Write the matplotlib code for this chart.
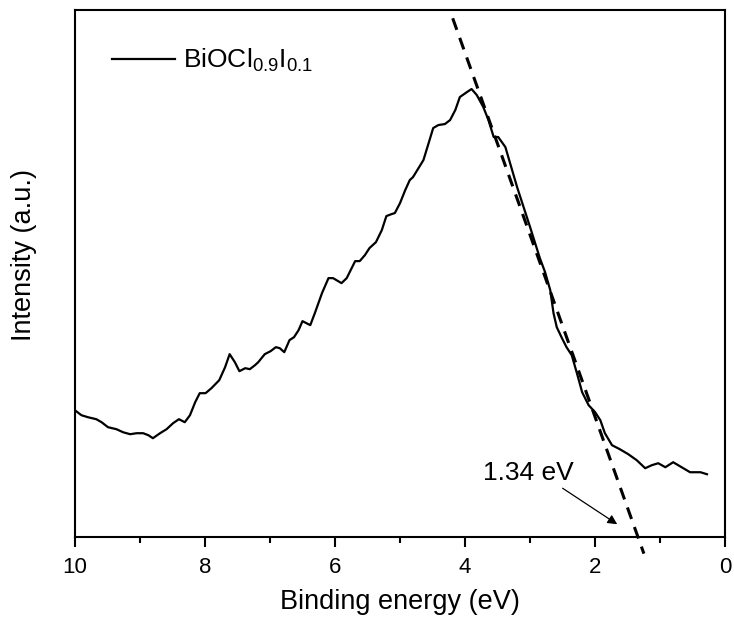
import matplotlib
matplotlib.use('Agg')
import matplotlib.pyplot as plt
from matplotlib.ticker import MultipleLocator

plt.rcParams['font.family'] = ['Liberation Sans', 'DejaVu Sans']
plt.rcParams['mathtext.default'] = 'regular'

# VB-XPS spectrum (arbitrary intensity units)
energy = [10.0, 9.90, 9.80, 9.67, 9.59, 9.49, 9.36, 9.26, 9.15, 9.05, 8.95, 8.87,
          8.80, 8.69, 8.59, 8.49, 8.40, 8.31, 8.23, 8.15, 8.08, 7.99, 7.90, 7.78,
          7.69, 7.62, 7.54, 7.47, 7.38, 7.31, 7.23, 7.18, 7.08, 6.99, 6.91, 6.85,
          6.78, 6.70, 6.63, 6.56, 6.50, 6.44, 6.38, 6.31, 6.20, 6.10, 6.03, 5.90,
          5.82, 5.69, 5.62, 5.54, 5.47, 5.37, 5.28, 5.21, 5.13, 5.08, 5.00, 4.92,
          4.85, 4.80, 4.64, 4.56, 4.49, 4.41, 4.31, 4.23, 4.15, 4.08, 3.97, 3.90,
          3.82, 3.72, 3.64, 3.56, 3.49, 3.38, 3.20, 3.00, 2.85, 2.77, 2.69, 2.64,
          2.59, 2.51, 2.44, 2.36, 2.28, 2.20, 2.10, 2.00, 1.92, 1.85, 1.74, 1.62,
          1.49, 1.36, 1.23, 1.13, 1.03, 0.92, 0.80, 0.67, 0.54, 0.38, 0.28]
intensity = [127, 122, 120, 118, 115, 110, 108, 105, 103, 104, 104, 102,
             99, 104, 108, 114, 118, 115, 122, 135, 144, 144, 149, 157,
             170, 183, 175, 166, 169, 168, 172, 175, 183, 186, 190, 189,
             185, 197, 200, 207, 216, 214, 212, 224, 244, 259, 259, 254,
             259, 276, 276, 282, 289, 295, 307, 321, 323, 324, 334, 347,
             357, 360, 377, 394, 409, 412, 413, 417, 427, 440, 445, 448,
             442, 430, 417, 400, 400, 390, 350, 310, 279, 265, 247, 224,
             210, 199, 190, 182, 164, 145, 132, 125, 117, 104, 92, 88,
             83, 77, 69, 72, 74, 70, 75, 70, 65, 65, 63]

# linear extrapolation of the leading edge
onset = 1.34
edge_slope = 182.0
fit_energy = [4.19, 1.25]
fit_intensity = [edge_slope * (e - onset) for e in fit_energy]

fig = plt.figure(figsize=(7.34, 6.24), dpi=100)
ax = fig.add_axes([0.102, 0.139, 0.886, 0.845])

ax.plot(energy, intensity, color='black', lw=1.6, solid_joinstyle='round',
        label=r'BiOCl$_{0.9}$I$_{0.1}$')
ax.plot(fit_energy, fit_intensity, color='black', lw=2.2, ls=(0, (4, 2.8)),
        clip_on=False)

ax.text(3.72, 57, '1.34 eV', ha='left', va='baseline', fontsize=19)
ax.annotate('', xy=(1.66, 13), xytext=(2.50, 49),
            arrowprops=dict(arrowstyle='-|>', color='black', lw=0.9,
                            mutation_scale=14, shrinkA=0, shrinkB=0))

ax.set_xlim(10, 0)
ax.set_ylim(0, 527)
ax.xaxis.set_major_locator(MultipleLocator(2))
ax.xaxis.set_minor_locator(MultipleLocator(1))
ax.tick_params(axis='x', which='major', direction='out', length=7.5, width=1.5,
               labelsize=16, pad=7)
ax.tick_params(axis='x', which='minor', direction='out', length=4.5, width=1.5)
ax.set_yticks([])
for s in ax.spines.values():
    s.set_linewidth(1.5)

ax.set_xlabel('Binding energy (eV)', fontsize=19.5)
ax.xaxis.set_label_coords(0.5, -0.098)
ax.set_ylabel('Intensity (a.u.)', fontsize=19.5)
ax.yaxis.set_label_coords(-0.058, 0.535)

ax.legend(loc='upper left', frameon=False, fontsize=19, handlelength=2.4,
          handletextpad=0.3, bbox_to_anchor=(0.02, 0.975))

fig.savefig('out.png', dpi=100)
